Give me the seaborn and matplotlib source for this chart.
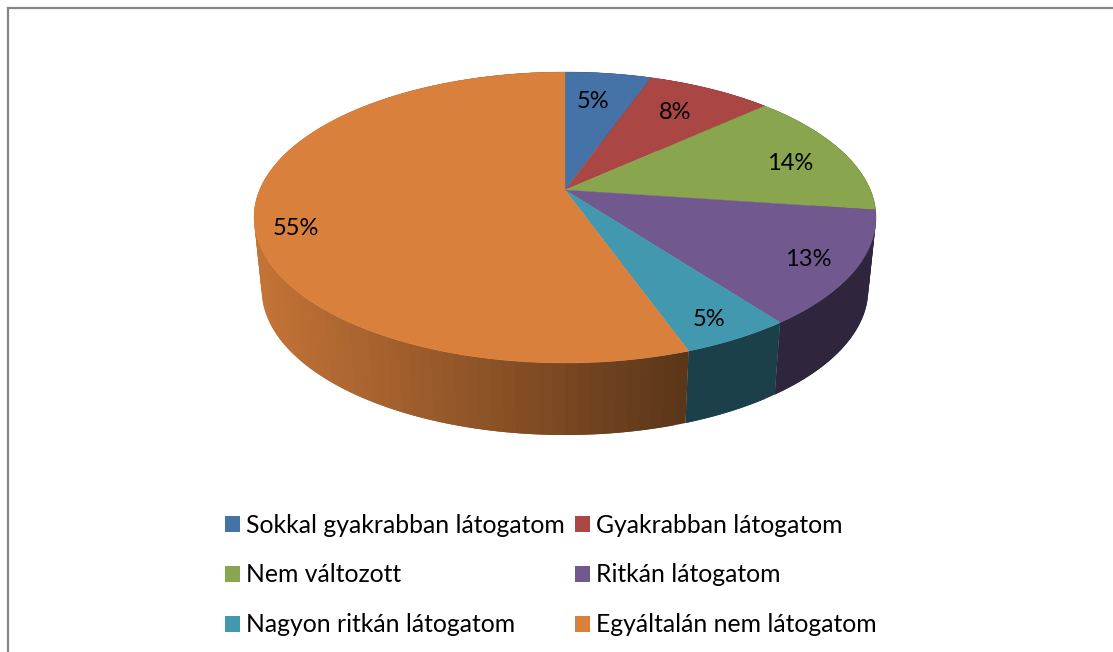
import numpy as np
import matplotlib
matplotlib.use("Agg")
import matplotlib.pyplot as plt
from matplotlib.patches import Patch
import seaborn as sns

categories = ["Sokkal gyakrabban látogatom", "Gyakrabban látogatom", "Nem változott",
              "Ritkán látogatom", "Nagyon ritkán látogatom", "Egyáltalán nem látogatom"]
values = [5.4, 7.8, 14.0, 12.6, 4.8, 55.4]
value_labels = ["5%", "8%", "14%", "13%", "5%", "55%"]
colors = ["#4572A7", "#AA4643", "#89A54E", "#71588F", "#4198AF", "#D9803C"]

# placement of the labels, as radius fraction and shift along the rim in percent
label_radius = [0.735, 0.748, 0.796, 0.855, 0.874, 0.876]
label_shift = [-0.43, -0.2, 0.55, 0.2, 0.2, -1.9]

sns.set_theme(style="white")
plt.rcParams["font.family"] = ["Lato", "DejaVu Sans"]

W, H = 1113, 652
fig = plt.figure(figsize=(W / 100, H / 100), dpi=100)
ax = fig.add_axes([8 / W, 0, (W - 8) / W, (H - 8) / H])
ax.set_xlim(8, W)
ax.set_ylim(H, 8)
ax.set_xticks([])
ax.set_yticks([])
sns.despine(ax=ax, top=False, right=True, bottom=True)
for s in ("left", "top"):
    ax.spines[s].set_color("#868686")
    ax.spines[s].set_linewidth(1.6)

CX, CY, A, B, K = 565, 190, 305.4, 140.3, 0.189
DEPTH, SQUASH = 72, 0.975


def project(theta, r=1.0):
    X, Y = r * np.sin(theta), r * np.cos(theta)
    d = 1 + K * Y
    return CX + A * X / d, CY - B * Y / d


def shade(hex_color, x):
    f = np.interp(x, [258, 685], [0.90, 0.42])
    return tuple(c * f for c in matplotlib.colors.to_rgb(hex_color))


edges = np.cumsum([0] + values) / sum(values) * 2 * np.pi

# side wall: each strip runs under the next one so that no seams show
for i, col in enumerate(colors):
    ts = np.linspace(edges[i], edges[i + 1], max(3, int((edges[i + 1] - edges[i]) * 30)))
    for j in range(len(ts) - 1):
        t0, t1 = ts[j], ts[min(j + 2, len(ts) - 1)]
        mid_t = np.linspace(t0, t1, 5)
        xs, ys = project(mid_t)
        bxs = CX + (xs - CX) * SQUASH
        xm = project((ts[j] + ts[j + 1]) / 2)[0]
        ax.fill(np.r_[xs, bxs[::-1]], np.r_[ys, ys[::-1] + DEPTH],
                color=shade(col, xm), lw=0, zorder=2)

# top face
for i, col in enumerate(colors):
    ts = np.linspace(edges[i], edges[i + 1], 120)
    xs, ys = project(ts)
    ax.fill(np.r_[CX, xs], np.r_[CY, ys], color=col, lw=0.3, zorder=3)

# labels
pct = np.cumsum([0] + values)
for i, lab in enumerate(value_labels):
    mid = (pct[i] + pct[i + 1]) / 2 + label_shift[i]
    x, y = project(mid / 100 * 2 * np.pi, label_radius[i])
    ax.text(x, y + 1.5, lab, ha="center", va="center", fontsize=17, color="black", zorder=5)

handles = [Patch(facecolor=c, edgecolor="none") for c in colors]
order = [0, 2, 4, 1, 3, 5]
ax.legend([handles[i] for i in order], [categories[i] for i in order], ncol=2, frameon=False,
          fontsize=17.8, loc="center left", bbox_to_anchor=(225 / W, 1 - 575 / H),
          bbox_transform=fig.transFigure, borderpad=0, borderaxespad=0,
          handlelength=0.61, handleheight=0.61, handletextpad=0.24,
          columnspacing=0.4, labelspacing=1.09, labelcolor="black")

fig.savefig("out.png", dpi=100)
